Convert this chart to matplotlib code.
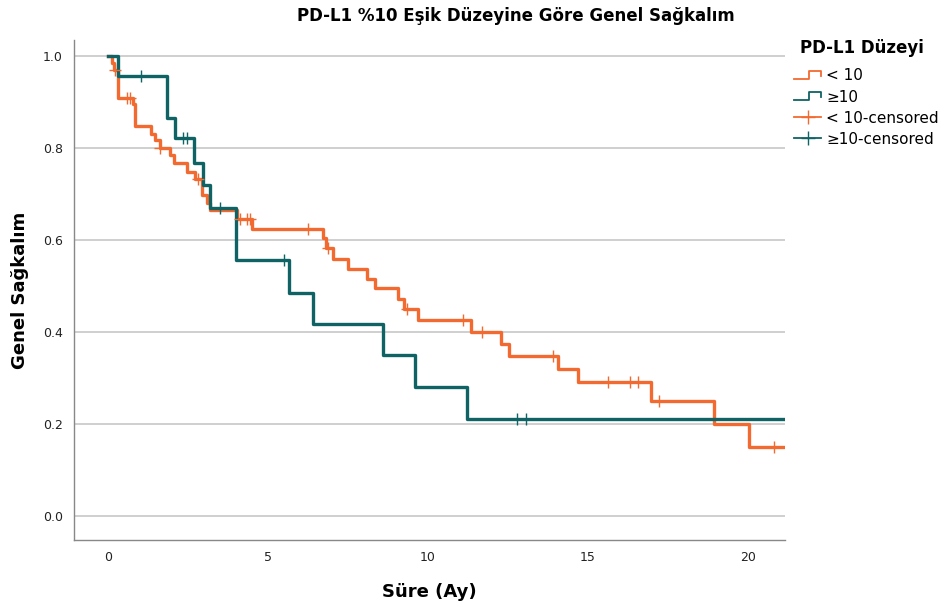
import numpy as np
import matplotlib
matplotlib.use("Agg")
import matplotlib.pyplot as plt
from matplotlib.lines import Line2D
from matplotlib.legend_handler import HandlerBase

# Kaplan-Meier steps: (time of drop, survival after drop)
low_times = [0.12, 0.2, 0.3, 0.79, 0.85, 1.36, 1.47, 1.62, 1.94, 2.07, 2.46, 2.72,
             2.93, 3.08, 3.19, 4.02, 4.49, 6.73, 6.81, 7.04, 7.5, 8.08, 8.34, 9.06,
             9.25, 9.7, 11.33, 12.27, 12.53, 14.05, 14.7, 16.96, 18.95, 20.02]
low_surv = [0.985, 0.97, 0.91, 0.895, 0.848, 0.83, 0.817, 0.80, 0.785, 0.767, 0.749, 0.732,
            0.698, 0.68, 0.665, 0.647, 0.625, 0.604, 0.582, 0.56, 0.538, 0.515, 0.495, 0.472,
            0.451, 0.427, 0.40, 0.375, 0.349, 0.319, 0.291, 0.25, 0.201, 0.15]
low_censored = [0.22, 0.58, 0.69, 1.62, 2.8, 4.13, 4.33, 4.44, 6.24, 6.88, 9.33, 11.08,
                11.68, 13.92, 15.63, 16.31, 16.57, 17.23, 20.81]

high_times = [0.3, 1.83, 2.1, 2.7, 2.96, 3.19, 4.0, 5.67, 6.42, 8.6, 9.6, 11.21]
high_surv = [0.958, 0.865, 0.822, 0.768, 0.72, 0.669, 0.556, 0.486, 0.417, 0.35, 0.28, 0.21]
high_censored = [1.03, 2.33, 2.46, 3.5, 5.51, 12.79, 13.06]

t_end = 21.15
ORANGE = "#f26a30"
TEAL = "#0f6364"


def step_xy(times, surv):
    x = [0.0] + list(times) + [t_end]
    y = [1.0] + list(surv) + [surv[-1]]
    return x, y


def surv_at(times, surv, t):
    idx = np.searchsorted(times, t, side="right")
    vals = np.concatenate([[1.0], surv])
    return vals[idx]


class StepHandler(HandlerBase):
    """draws the little step icon SPSS uses in the legend"""
    def create_artists(self, legend, orig_handle, xdescent, ydescent, width, height, fontsize, trans):
        xs = np.array([0, 0.55, 0.55, 1.0, 1.0]) * width - xdescent
        ys = np.array([0.15, 0.15, 0.85, 0.85, 0.45]) * height - ydescent
        ln = Line2D(xs, ys, color=orig_handle.get_color(), lw=1.3, transform=trans)
        return [ln]


fig = plt.figure(figsize=(9.49, 6.08), dpi=100)
ax = fig.add_axes([0.078, 0.112, 0.749, 0.822])

for y in np.arange(0, 1.01, 0.2):
    ax.axhline(y, color="#cccccc", lw=1.3, zorder=0)

x, y = step_xy(low_times, low_surv)
ax.plot(x, y, drawstyle="steps-post", color=ORANGE, lw=2.4, zorder=2)
x, y = step_xy(high_times, high_surv)
ax.plot(x, y, drawstyle="steps-post", color=TEAL, lw=2.4, zorder=3)

ax.plot(low_censored, surv_at(low_times, low_surv, low_censored), ls="none",
        marker="+", ms=8, mew=1.0, color=ORANGE, zorder=4)
ax.plot(high_censored, surv_at(high_times, high_surv, high_censored), ls="none",
        marker="+", ms=8, mew=1.0, color=TEAL, zorder=4)

ax.set_xlim(-1.06, t_end)
ax.set_ylim(-0.052, 1.035)
ax.set_xticks([0, 5, 10, 15, 20])
ax.set_yticks(np.arange(0, 1.01, 0.2))
ax.set_yticklabels([f"{v:.1f}" for v in np.arange(0, 1.01, 0.2)])
ax.tick_params(length=0, labelsize=9, pad=8, colors="#222222")
for s in ["top", "right"]:
    ax.spines[s].set_visible(False)
for s in ["left", "bottom"]:
    ax.spines[s].set_color("#888888")
    ax.spines[s].set_linewidth(1.0)

ax.set_xlabel("Süre (Ay)", fontsize=13, fontweight="bold", labelpad=14)
ax.set_ylabel("Genel Sağkalım", fontsize=13, fontweight="bold", labelpad=10)
fig.text(0.544, 0.973, "PD-L1 %10 Eşik Düzeyine Göre Genel Sağkalım", ha="center",
         va="center", fontsize=12, fontweight="bold")

# legend title drawn separately so the gap to the entries matches
fig.text(0.843, 0.921, "PD-L1 Düzeyi", ha="left", va="center", fontsize=12, fontweight="bold")
handles = [Line2D([], [], color=ORANGE), Line2D([], [], color=TEAL),
           Line2D([], [], color=ORANGE, marker="+", ms=10, mew=1.0, lw=1.3),
           Line2D([], [], color=TEAL, marker="+", ms=10, mew=1.0, lw=1.3)]
labels = ["< 10", "≥10", "< 10-censored", "≥10-censored"]
leg = fig.legend(handles, labels, loc="upper left", bbox_to_anchor=(0.822, 0.91),
                 frameon=False, fontsize=11,
                 handler_map={handles[0]: StepHandler(), handles[1]: StepHandler()},
                 handlelength=1.8, handletextpad=0.3, labelspacing=0.4)

fig.savefig("out.png", dpi=100)
